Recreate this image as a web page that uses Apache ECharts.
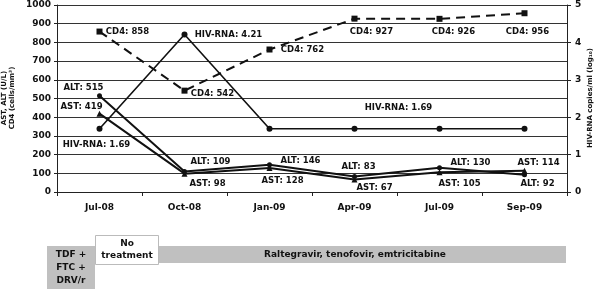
<!DOCTYPE html>
<html><head><meta charset="utf-8">
<script src="https://cdn.jsdelivr.net/npm/echarts@6/dist/echarts.min.js"></script>
<style>html,body{margin:0;padding:0;background:#fff}#c{width:600px;height:289px}</style>
</head><body><div id="c"></div>
<script>
var categories = ['Jul-08','Oct-08','Jan-09','Apr-09','Jul-09','Sep-09'];
var cd4 = [858, 542, 762, 927, 926, 956];
var hivRna = [1.69, 4.21, 1.69, 1.69, 1.69, 1.69];
var alt = [515, 109, 146, 83, 130, 92];
var ast = [419, 98, 128, 67, 105, 114];
var leftTicks = [0,100,200,300,400,500,600,700,800,900,1000];
var rightTicks = [0,1,2,3,4,5];

// label offsets (from point centre) per series, null = no label
var cd4Off = [[28,0],[28,3],[33,0],[17,13],[14,13],[3,19]];
var hivOff = [[-3,16],[44,0],null,[44,-21],null,null];
var altOff = [[-16,-8],[26,-10],[31,-4],[4,-10],[31,-5],[13,9]];
var astOff = [[-18,-7],[23,10],[13,13],[20,8],[20,11],[14,-8]];

var F = 'DejaVu Sans, Verdana, sans-serif';
function mk(vals, offs, name){
  return vals.map(function(v,i){
    var o = offs[i];
    return {value: v, label: o ? {show:true, position:'inside', offset:o, formatter: name + ': ' + v,
      fontFamily:F, fontWeight:'bold', fontSize:8.5, color:'#111'} : {show:false}};
  });
}
var chart = echarts.init(document.getElementById('c'), null, {renderer:'canvas'});
var lab = {fontFamily:F, fontWeight:'bold', fontSize:9, color:'#111'};
chart.setOption({
  animation:false,
  grid:{left:57, right:33, top:5, bottom:97, containLabel:false},
  xAxis:{type:'category', data:categories, boundaryGap:true,
    axisLine:{lineStyle:{color:'#222', width:1}},
    axisTick:{show:true, alignWithLabel:false, length:4, lineStyle:{color:'#222'}},
    axisLabel:Object.assign({margin:11, fontSize:9.5}, lab)},
  yAxis:[
    {type:'value', min:0, max:1000, interval:100,
     axisLine:{show:true, lineStyle:{color:'#222'}}, axisTick:{show:true, length:3, lineStyle:{color:'#222'}},
     axisLabel:Object.assign({margin:6, fontSize:9.5, formatter:function(v){return String(leftTicks[Math.round(v/100)]);}}, lab),
     splitLine:{show:true, lineStyle:{color:'#333', width:1}}},
    {type:'value', min:0, max:5, interval:1, position:'right',
     axisLine:{show:true, lineStyle:{color:'#222'}}, axisTick:{show:true, length:4, lineStyle:{color:'#222'}},
     axisLabel:Object.assign({margin:8, fontSize:9.5, formatter:function(v){return String(rightTicks[Math.round(v)]);}}, lab),
     splitLine:{show:false}}
  ],
  series:[
    {name:'CD4', type:'line', yAxisIndex:0, data:mk(cd4, cd4Off, 'CD4'),
     symbol:'rect', symbolSize:6, itemStyle:{color:'#111'},
     lineStyle:{color:'#111', width:2, type:[9,6]}},
    {name:'HIV-RNA', type:'line', yAxisIndex:1, data:mk(hivRna, hivOff, 'HIV-RNA'),
     symbol:'circle', symbolSize:6, itemStyle:{color:'#111'},
     lineStyle:{color:'#111', width:1.6}},
    {name:'ALT', type:'line', yAxisIndex:0, data:mk(alt, altOff, 'ALT'),
     symbol:'circle', symbolSize:5, itemStyle:{color:'#111'},
     lineStyle:{color:'#111', width:2}},
    {name:'AST', type:'line', yAxisIndex:0, data:mk(ast, astOff, 'AST'),
     symbol:'triangle', symbolSize:6, itemStyle:{color:'#111'},
     lineStyle:{color:'#111', width:2}}
  ],
  graphic:[
    {type:'text', x:8, y:98, rotation:Math.PI/2, style:{text:'AST, ALT (U/L)\nCD4 (cells/mm³)', font:'bold 7px '+F, fill:'#111', textAlign:'center', textVerticalAlign:'middle', lineHeight:8}},
    {type:'text', x:590, y:98, rotation:Math.PI/2, style:{text:'HIV-RNA copies/ml (log₁₀)', font:'bold 7px '+F, fill:'#111', textAlign:'center', textVerticalAlign:'middle'}},
    {type:'rect', shape:{x:47, y:246, width:48, height:44}, style:{fill:'#c0c0c0'}},
    {type:'text', x:71, y:255, style:{text:'TDF +', font:'bold 9px '+F, fill:'#111', textAlign:'center', textVerticalAlign:'middle'}},
    {type:'text', x:71, y:268, style:{text:'FTC +', font:'bold 9px '+F, fill:'#111', textAlign:'center', textVerticalAlign:'middle'}},
    {type:'text', x:71, y:281, style:{text:'DRV/r', font:'bold 9px '+F, fill:'#111', textAlign:'center', textVerticalAlign:'middle'}},
    {type:'rect', shape:{x:159, y:246, width:407, height:17}, style:{fill:'#c0c0c0'}},
    {type:'rect', shape:{x:95.5, y:235.5, width:63, height:29}, style:{fill:'#fff', stroke:'#bbb', lineWidth:1}},
    {type:'text', x:127, y:244, style:{text:'No', font:'bold 9px '+F, fill:'#111', textAlign:'center', textVerticalAlign:'middle'}},
    {type:'text', x:127, y:256, style:{text:'treatment', font:'bold 9px '+F, fill:'#111', textAlign:'center', textVerticalAlign:'middle'}},
    {type:'text', x:355, y:255, style:{text:'Raltegravir, tenofovir, emtricitabine', font:'bold 9px '+F, fill:'#111', textAlign:'center', textVerticalAlign:'middle'}}
  ]
});
</script></body></html>
